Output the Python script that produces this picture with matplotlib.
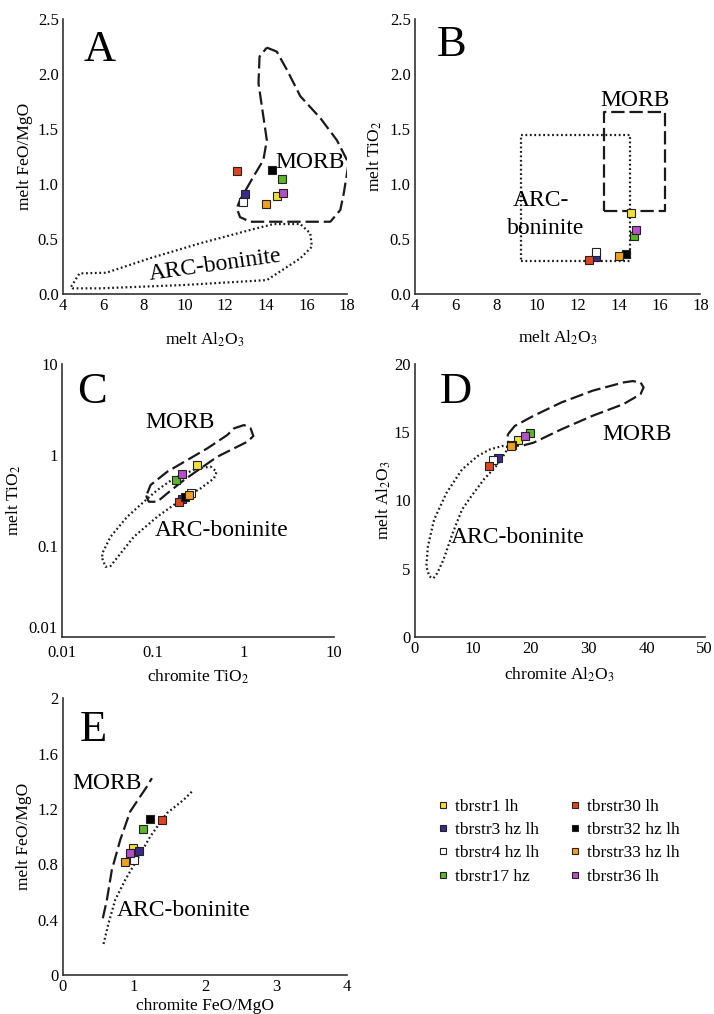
import numpy as np
import matplotlib.pyplot as plt
from matplotlib.lines import Line2D
from matplotlib.ticker import FixedLocator, FixedFormatter

plt.rcParams['font.family'] = ['Liberation Serif', 'DejaVu Serif']
plt.rcParams['mathtext.fontset'] = 'stix'

# samples
names = ['tbrstr1 lh', 'tbrstr3 hz lh', 'tbrstr4 hz lh', 'tbrstr17 hz',
         'tbrstr30 lh', 'tbrstr32 hz lh', 'tbrstr33 hz lh', 'tbrstr36 lh']
colors = ['#f2e034', '#3b2a8e', '#ffffff', '#5cb52b',
          '#e2441f', '#000000', '#f3a020', '#b54fc6']

# A: melt Al2O3 vs melt FeO/MgO
a_x = [14.56, 12.97, 12.90, 14.78, 12.58, 14.30, 14.02, 14.86]
a_y = [0.888, 0.906, 0.836, 1.045, 1.118, 1.127, 0.815, 0.915]
# B: melt Al2O3 vs melt TiO2
b_x = [14.62, 12.89, 12.86, 14.75, 12.53, 14.33, 14.00, 14.82]
b_y = [0.735, 0.340, 0.386, 0.525, 0.313, 0.368, 0.350, 0.586]
# C: chromite TiO2 vs melt TiO2
c_x = [0.31, 0.211, 0.261, 0.182, 0.196, 0.226, 0.250, 0.208]
c_y = [0.774, 0.327, 0.378, 0.530, 0.306, 0.347, 0.362, 0.617]
# D: chromite Al2O3 vs melt Al2O3
d_x = [17.78, 14.3, 13.5, 19.81, 12.8, 16.81, 16.6, 19.0]
d_y = [14.43, 13.08, 12.93, 14.92, 12.52, 14.04, 14.0, 14.72]
# E: chromite FeO/MgO vs melt FeO/MgO
e_x = [0.986, 1.066, 0.995, 1.127, 1.394, 1.221, 0.878, 0.939]
e_y = [0.920, 0.892, 0.831, 1.058, 1.116, 1.130, 0.819, 0.884]

# discrimination fields
a_morb_x = [14.05, 14.54, 15.04, 15.7, 16.69, 17.5, 18.08, 17.84, 17.67, 17.18,
            13.23, 12.73, 12.57, 12.73, 13.39, 13.88, 14.05, 13.88, 13.64, 13.69]
a_morb_y = [2.242, 2.206, 2.04, 1.80, 1.60, 1.40, 1.19, 0.916, 0.765, 0.658,
            0.658, 0.70, 0.78, 0.856, 1.068, 1.22, 1.40, 1.614, 1.917, 2.16]
a_arc_x = [4.41, 4.82, 6.14, 8.28, 10.75, 13.23, 14.38, 15.7, 16.19, 16.27,
           15.7, 14.05, 9.93, 5.81, 4.49]
a_arc_y = [0.067, 0.188, 0.194, 0.325, 0.461, 0.583, 0.637, 0.637, 0.552, 0.431,
           0.325, 0.127, 0.082, 0.052, 0.052]

b_morb = [13.26, 16.28, 0.759, 1.656]
b_arc = [9.21, 14.54, 0.298, 1.443]

c_morb_x = [0.0868, 0.0945, 0.1443, 0.24, 0.399, 0.663, 0.786, 1.014, 1.2, 1.285,
            1.103, 0.786, 0.5145, 0.3368, 0.2205, 0.1443, 0.112, 0.0906, 0.0853]
c_morb_y = [0.3777, 0.4667, 0.654, 0.879, 1.181, 1.656, 1.961, 2.133, 1.961, 1.614,
            1.398, 1.181, 0.956, 0.712, 0.5297, 0.3777, 0.3057, 0.3057, 0.347]
c_arc_x = [0.0277, 0.0301, 0.0342, 0.0441, 0.0618, 0.1119, 0.2026, 0.3368, 0.4727,
           0.5058, 0.4344, 0.3096, 0.171, 0.112, 0.0798, 0.0522, 0.0342, 0.0277]
c_arc_y = [0.0728, 0.0589, 0.06, 0.0826, 0.126, 0.209, 0.319, 0.4287, 0.5524,
           0.654, 0.742, 0.712, 0.5524, 0.411, 0.3057, 0.209, 0.126, 0.0826]

d_morb_x = [16.06, 17.24, 20.46, 25.27, 30.63, 35.98, 37.59, 38.93, 39.46, 38.93,
            35.98, 30.63, 25.27, 20.46, 18.31, 16.71, 15.9]
d_morb_y = [14.85, 15.46, 16.2, 17.18, 18.04, 18.65, 18.75, 18.65, 18.28, 17.79,
            17.06, 16.2, 15.21, 14.23, 13.99, 14.04, 14.36]
d_arc_x = [16.06, 15.1, 12.96, 10.82, 8.14, 5.46, 3.32, 2.25, 1.98, 2.52, 3.21,
           3.86, 4.93, 6.53, 8.14, 9.75, 11.89, 14.03, 15.64]
d_arc_y = [13.94, 13.99, 13.74, 13.25, 12.27, 10.55, 8.59, 6.63, 5.15, 4.42, 4.29,
           4.66, 5.64, 7.61, 9.33, 10.31, 11.53, 12.52, 13.5]

e_morb_x = [0.563, 0.62, 0.69, 0.808, 0.948, 1.089, 1.183, 1.254]
e_morb_y = [0.41, 0.542, 0.759, 0.976, 1.181, 1.289, 1.361, 1.422]
e_arc_x = [0.573, 0.643, 0.737, 0.878, 1.042, 1.23, 1.465, 1.7, 1.84]
e_arc_y = [0.224, 0.373, 0.542, 0.687, 0.831, 1.0, 1.169, 1.265, 1.337]

DASH = (6, 2.2)
DOT = (0.8, 1.2)
FS_TICK = 12
FS_LAB = 12.5
FS_FIELD = 17


def closed(x, y):
    return list(x) + [x[0]], list(y) + [y[0]]


def field(ax, x, y, dashes, close=True):
    if close:
        x, y = closed(x, y)
    ax.plot(x, y, color='#1a1a1a', lw=1.6, dashes=dashes, zorder=2)


def rect(ax, r, dashes):
    x0, x1, y0, y1 = r
    field(ax, [x0, x1, x1, x0], [y0, y0, y1, y1], dashes)


def points(ax, xs, ys, ms=5.5):
    for x, y, c in zip(xs, ys, colors):
        ax.plot(x, y, 's', color=c, mec='#222222', mew=0.8, ms=ms, zorder=3)


def style(ax, letter, lx, ly):
    for s in ['top', 'right']:
        ax.spines[s].set_visible(False)
    for s in ['left', 'bottom']:
        ax.spines[s].set_color('#333333')
        ax.spines[s].set_linewidth(1.2)
    ax.tick_params(length=0, labelsize=FS_TICK, pad=3)
    ax.text(lx, ly, letter, transform=ax.transAxes, fontsize=32,
            ha='center', va='center')


fig = plt.figure(figsize=(7.14, 10.14), dpi=100)

# A
ax = fig.add_axes([0.088, 0.710, 0.398, 0.271])
field(ax, a_morb_x, a_morb_y, DASH)
field(ax, a_arc_x, a_arc_y, DOT)
points(ax, a_x, a_y)
ax.set_xlim(4, 18)
ax.set_ylim(0, 2.5)
ax.set_xticks(np.arange(4, 19, 2))
ax.set_yticks(np.arange(0, 2.6, 0.5))
ax.set_yticklabels(['%.1f' % v for v in np.arange(0, 2.6, 0.5)])
ax.text(16.2, 1.2, 'MORB', fontsize=FS_FIELD, ha='center', va='center')
ax.text(11.5, 0.26, 'ARC-boninite', fontsize=FS_FIELD, ha='center', va='center',
        rotation=8)
ax.set_xlabel('melt Al$_2$O$_3$', fontsize=FS_LAB, labelpad=12)
ax.set_ylabel('melt FeO/MgO', fontsize=FS_LAB, labelpad=3)
style(ax, 'A', 0.13, 0.887)

# B
ax = fig.add_axes([0.581, 0.710, 0.400, 0.271])
rect(ax, b_morb, DASH)
rect(ax, b_arc, DOT)
points(ax, b_x, b_y)
ax.set_xlim(4, 18)
ax.set_ylim(0, 2.5)
ax.set_xticks(np.arange(4, 19, 2))
ax.set_yticks(np.arange(0, 2.6, 0.5))
ax.set_yticklabels(['%.1f' % v for v in np.arange(0, 2.6, 0.5)])
ax.text(14.8, 1.76, 'MORB', fontsize=FS_FIELD, ha='center', va='center')
ax.text(10.2, 0.85, 'ARC-', fontsize=FS_FIELD, ha='center', va='center')
ax.text(10.4, 0.6, 'boninite', fontsize=FS_FIELD, ha='center', va='center')
ax.set_xlabel('melt Al$_2$O$_3$', fontsize=FS_LAB, labelpad=10)
ax.set_ylabel('melt TiO$_2$', fontsize=FS_LAB, labelpad=4)
style(ax, 'B', 0.13, 0.905)

# C (log-log)
ax = fig.add_axes([0.087, 0.372, 0.381, 0.269])
ax.set_xscale('log')
ax.set_yscale('log')
field(ax, c_morb_x, c_morb_y, DASH)
field(ax, c_arc_x, c_arc_y, DOT)
points(ax, c_x, c_y)
ax.set_xlim(0.01, 10)
ax.set_ylim(0.01, 10)
log_ticks = [0.01, 0.1, 1, 10]
log_labels = ['0.01', '0.1', '1', '10']
ax.xaxis.set_major_locator(FixedLocator(log_ticks))
ax.xaxis.set_major_formatter(FixedFormatter(log_labels))
ax.yaxis.set_major_locator(FixedLocator(log_ticks))
ax.yaxis.set_major_formatter(FixedFormatter(log_labels))
ax.minorticks_off()
ax.text(0.2, 2.3, 'MORB', fontsize=FS_FIELD, ha='center', va='center')
ax.text(0.58, 0.147, 'ARC-boninite', fontsize=FS_FIELD, ha='center', va='center')
ax.set_xlabel('chromite TiO$_2$', fontsize=FS_LAB, labelpad=5)
ax.set_ylabel('melt TiO$_2$', fontsize=FS_LAB, labelpad=4)
style(ax, 'C', 0.11, 0.897)
ax.tick_params(axis='x', pad=6)
ax.get_yticklabels()[0].set_verticalalignment('bottom')

# D
ax = fig.add_axes([0.581, 0.372, 0.406, 0.269])
field(ax, d_morb_x, d_morb_y, DASH)
field(ax, d_arc_x, d_arc_y, DOT)
points(ax, d_x, d_y)
ax.set_xlim(0, 50)
ax.set_ylim(0, 20)
ax.set_xticks(np.arange(0, 51, 10))
ax.set_yticks(np.arange(0, 21, 5))
ax.text(38.4, 14.85, 'MORB', fontsize=FS_FIELD, ha='center', va='center')
ax.text(17.8, 7.25, 'ARC-boninite', fontsize=FS_FIELD, ha='center', va='center')
ax.set_xlabel('chromite Al$_2$O$_3$', fontsize=FS_LAB, labelpad=6)
ax.set_ylabel('melt Al$_2$O$_3$', fontsize=FS_LAB, labelpad=1)
style(ax, 'D', 0.14, 0.897)

# E
ax = fig.add_axes([0.088, 0.0385, 0.398, 0.273])
field(ax, e_morb_x, e_morb_y, DASH, close=False)
field(ax, e_arc_x, e_arc_y, DOT, close=False)
points(ax, e_x, e_y)
ax.set_xlim(0, 4)
ax.set_ylim(0, 2)
ax.set_xticks(np.arange(0, 5, 1))
e_yt = [0, 0.4, 0.8, 1.2, 1.6, 2]
ax.set_yticks(e_yt)
ax.set_yticklabels(['0', '0.4', '0.8', '1.2', '1.6', '2'])
ax.text(0.62, 1.386, 'MORB', fontsize=FS_FIELD, ha='center', va='center')
ax.text(1.7, 0.465, 'ARC-boninite', fontsize=FS_FIELD, ha='center', va='center')
ax.set_xlabel('chromite FeO/MgO', fontsize=FS_LAB, labelpad=2)
ax.set_ylabel('melt FeO/MgO', fontsize=FS_LAB, labelpad=4)
style(ax, 'E', 0.107, 0.885)

# legend
handles = [Line2D([], [], ls='none', marker='s', color=c, mec='#222222',
                  mew=0.8, ms=4.2) for c in colors]
fig.legend(handles, names, ncol=2, frameon=False, fontsize=12.5,
           loc='upper left', bbox_to_anchor=(0.592, 0.228),
           handlelength=0.5, handletextpad=0.45, columnspacing=1.8,
           labelspacing=0.42)

fig.savefig('out.png', dpi=100)
